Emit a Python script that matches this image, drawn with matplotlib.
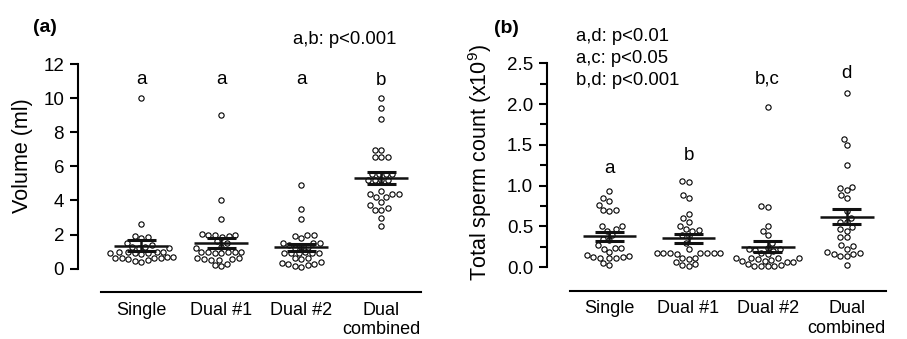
import numpy as np
import pandas as pd
import matplotlib
matplotlib.use("Agg")
import matplotlib.pyplot as plt
from matplotlib.ticker import MultipleLocator
import seaborn as sns

plt.rcParams['font.family'] = ['Liberation Sans', 'DejaVu Sans']
plt.rcParams['mathtext.default'] = 'regular'

# group names
groups = ['Single', 'Dual #1', 'Dual #2', 'Dual\ncombined']

# (a) ejaculate volume, ml
vol_single = [10.0, 2.6, 1.9, 1.85, 1.8, 1.5, 1.4, 1.3, 1.25, 1.2, 1.2, 1.0, 1.0, 0.95, 0.95,
              0.9, 0.9, 0.9, 0.85, 0.7, 0.7, 0.65, 0.65, 0.6, 0.6, 0.55, 0.5, 0.45, 0.4]
vol_dual1 = [9.0, 4.0, 2.9, 2.05, 2.0, 2.0, 1.95, 1.9, 1.85, 1.6, 1.5, 1.3, 1.2, 1.0, 1.0,
             1.0, 0.95, 0.95, 0.9, 0.9, 0.6, 0.6, 0.55, 0.55, 0.5, 0.5, 0.3, 0.2, 0.15]
vol_dual2 = [4.9, 3.5, 2.9, 2.0, 2.0, 1.9, 1.8, 1.5, 1.5, 1.5, 1.4, 1.3, 1.3, 1.2, 0.95,
             0.9, 0.9, 0.9, 0.9, 0.9, 0.6, 0.6, 0.55, 0.4, 0.35, 0.3, 0.25, 0.2, 0.15, 0.1]
vol_comb = [10.0, 9.4, 8.8, 6.95, 6.95, 6.56, 6.56, 6.56, 5.54, 5.54, 5.54, 5.54, 5.19, 5.19,
            5.19, 5.19, 4.55, 4.35, 4.18, 4.18, 4.36, 4.36, 3.92, 3.73, 3.57, 3.44, 3.44, 2.99, 2.52]

# (b) total sperm count, x10^9
cnt_single = [0.935, 0.845, 0.81, 0.76, 0.70, 0.70, 0.69, 0.505, 0.50, 0.465, 0.445, 0.40, 0.35, 0.33,
              0.27, 0.24, 0.24, 0.23, 0.19, 0.15, 0.14, 0.13, 0.13, 0.12, 0.12, 0.11, 0.05, 0.03]
cnt_dual1 = [1.06, 1.05, 0.89, 0.85, 0.65, 0.60, 0.56, 0.51, 0.47, 0.46, 0.445, 0.40, 0.38, 0.30, 0.23,
             0.17, 0.17, 0.17, 0.17, 0.17, 0.17, 0.17, 0.16, 0.12, 0.11, 0.10, 0.07, 0.04, 0.03, 0.02]
cnt_dual2 = [1.96, 0.75, 0.74, 0.51, 0.45, 0.39, 0.30, 0.24, 0.23, 0.22, 0.21, 0.20, 0.17, 0.16, 0.12,
             0.11, 0.11, 0.11, 0.10, 0.09, 0.08, 0.08, 0.07, 0.07, 0.04, 0.03, 0.02, 0.02, 0.01, 0.01]
cnt_comb = [2.13, 1.57, 1.50, 1.25, 0.99, 0.97, 0.95, 0.89, 0.85, 0.69, 0.61, 0.55, 0.55, 0.49,
            0.47, 0.45, 0.37, 0.37, 0.27, 0.26, 0.23, 0.19, 0.18, 0.16, 0.16, 0.14, 0.14, 0.03]

# significance letters
letters_a = ['a', 'a', 'a', 'b']
letters_a_y = [10.8, 10.8, 10.8, 10.75]
letters_b = ['a', 'b', 'b,c', 'd']
letters_b_y = [1.16, 1.31, 2.25, 2.32]


def long_df(cols):
    rows = []
    for g, vals in zip(groups, cols):
        for v in vals:
            rows.append((g, v))
    return pd.DataFrame(rows, columns=['group', 'value'])


def draw_panel(ax, cols, letters, letters_y):
    df = long_df(cols)
    sns.swarmplot(data=df, x='group', y='value', order=groups, ax=ax,
                  color='white', edgecolor='black', linewidth=0.8, size=3.8, zorder=2)
    for c in ax.collections:
        c.set_clip_on(False)
    # mean +/- SEM
    for i, vals in enumerate(cols):
        v = np.array(vals)
        m = v.mean()
        se = v.std(ddof=1) / np.sqrt(len(v))
        ax.hlines(m, i - 0.34, i + 0.34, color='#111111', lw=1.8, zorder=4)
        ax.hlines([m - se, m + se], i - 0.18, i + 0.18, color='#111111', lw=2.2, zorder=4)
        ax.vlines(i, m - se, m + se, color='#111111', lw=1.8, zorder=4)
        ax.text(i, letters_y[i], letters[i], ha='center', va='baseline', fontsize=13.5)
    ax.spines['top'].set_visible(False)
    ax.spines['right'].set_visible(False)
    ax.spines['left'].set_linewidth(1.5)
    ax.spines['bottom'].set_linewidth(1.5)
    ax.spines['bottom'].set_bounds(-0.5, 3.5)
    ax.spines['bottom'].set_position(('outward', 16.8))
    ax.tick_params(axis='x', length=0, pad=7, labelsize=13)
    ax.tick_params(axis='y', which='major', length=6, width=1.5, pad=4, labelsize=13.5)
    ax.tick_params(axis='y', which='minor', length=5, width=1.5)
    ax.set_xlabel('')
    ax.set_ylabel('')
    ax.set_xlim(-0.79, 3.51)


fig = plt.figure(figsize=(9.07, 3.39), dpi=100)

ax1 = fig.add_axes([0.0860, 0.2074, 0.3793, 0.6038])
draw_panel(ax1, [vol_single, vol_dual1, vol_dual2, vol_comb], letters_a, letters_a_y)
ax1.set_ylim(0, 12)
ax1.spines['left'].set_bounds(0, 12)
ax1.set_yticks(np.arange(0, 13, 2))

ax2 = fig.add_axes([0.6031, 0.2115, 0.3749, 0.6018])
draw_panel(ax2, [cnt_single, cnt_dual1, cnt_dual2, cnt_comb], letters_b, letters_b_y)
ax2.set_ylim(0, 2.5)
ax2.spines['left'].set_bounds(0, 2.5)
ax2.set_yticks(np.arange(0, 2.51, 0.5))
ax2.set_yticklabels(['0.0', '0.5', '1.0', '1.5', '2.0', '2.5'])
ax2.yaxis.set_minor_locator(MultipleLocator(0.25))

# y labels
fig.text(0.025, 0.540, 'Volume (ml)', rotation=90, ha='center', va='center', fontsize=15.5)
fig.text(0.529, 0.519, 'Total sperm count (x10$^9$)', rotation=90, ha='center', va='center',
         fontsize=15.5)

# panel labels and p-values
fig.text(0.036, 0.906, '(a)', fontsize=14, fontweight='bold', va='baseline')
fig.text(0.545, 0.903, '(b)', fontsize=14, fontweight='bold', va='baseline')
fig.text(0.323, 0.870, 'a,b: p<0.001', fontsize=13.3, va='baseline')
fig.text(0.635, 0.879, 'a,d: p<0.01', fontsize=13.3, va='baseline')
fig.text(0.635, 0.814, 'a,c: p<0.05', fontsize=13.3, va='baseline')
fig.text(0.635, 0.749, 'b,d: p<0.001', fontsize=13.3, va='baseline')

fig.savefig('out.png', dpi=100)
